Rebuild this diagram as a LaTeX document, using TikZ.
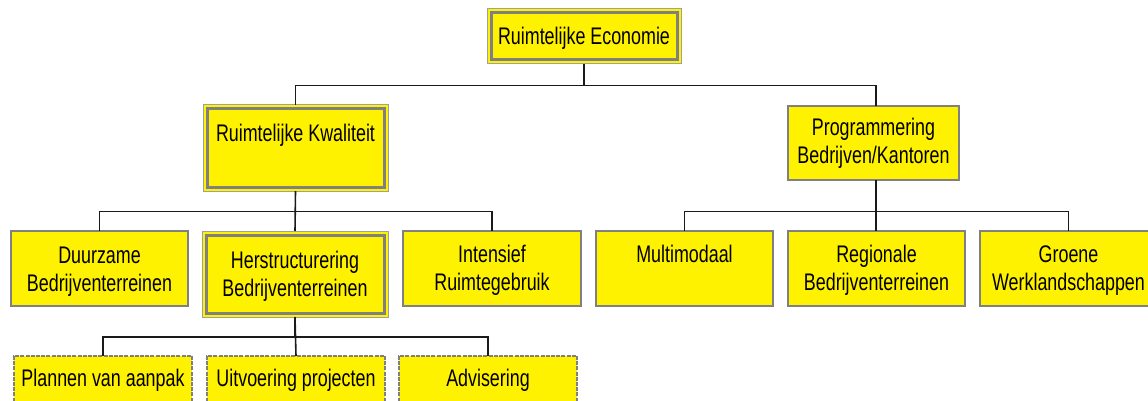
\documentclass[tikz,border=0pt]{standalone}
\usepackage{fontspec}
\setmainfont{Liberation Sans}[FakeStretch=0.745]
\definecolor{boxgray}{HTML}{808080}
\definecolor{rimgray}{HTML}{A0A0A0}
\definecolor{linecol}{HTML}{1A1A1A}
\begin{document}
\begin{tikzpicture}[x=1pt,y=-1pt,
  box/.style={draw=boxgray, line width=1.3pt, fill=yellow, inner sep=0pt, outer sep=0pt},
  dbox/.style={draw=rimgray, line width=1pt, fill=yellow, inner sep=0pt, outer sep=0pt},
  dashbox/.style={box, draw=boxgray, dash pattern=on 4pt off 1.2pt},
  inner/.style={draw=boxgray, line width=3pt},
  lbl/.style={anchor=base, align=center, inner sep=0pt, font=\fontsize{24}{28}\selectfont},
  conn/.style={draw=linecol, line width=1.6pt}]
\useasboundingbox (0,0) rectangle (1148,401);
\clip (0,0) rectangle (1148,401);
% level 1
\node[dbox, minimum width=194pt, minimum height=55pt] (top) at (584,36.5) {};
\draw[inner] ([shift={(4,4)}]top.north west) rectangle ([shift={(-4,-4)}]top.south east);
\node[lbl] (ttop) at (584,45) {Ruimtelijke Economie};
% level 2
\node[dbox, minimum width=185pt, minimum height=86pt] (rk) at (295.5,148) {};
\draw[inner] ([shift={(4,4)}]rk.north west) rectangle ([shift={(-4,-4)}]rk.south east);
\node[lbl] (trk) at (295.5,141.7) {Ruimtelijke Kwaliteit};
\node[box, minimum width=171pt, minimum height=74pt] (prog) at (873.5,143) {};
\node[lbl] (tprog) at (873.5,163.5) {Programmering\\Bedrijven/Kantoren};
% level 3
\node[box, minimum width=177pt, minimum height=75pt] (dz) at (99.5,268.5) {};
\node[lbl] (tdz) at (99.5,291) {Duurzame\\Bedrijventerreinen};
\node[dbox, minimum width=186pt, minimum height=86pt] (hs) at (295,274) {};
\draw[inner] ([shift={(4,4)}]hs.north west) rectangle ([shift={(-4,-4)}]hs.south east);
\node[lbl] (ths) at (295,296) {Herstructurering\\Bedrijventerreinen};
\node[box, minimum width=178pt, minimum height=75pt] (in) at (492,268.5) {};
\node[lbl] (tin) at (492,290.5) {Intensief\\Ruimtegebruik};
\node[box, minimum width=177pt, minimum height=75pt] (mm) at (684.5,268.5) {};
\node[lbl] (tmm) at (684.5,262.7) {Multimodaal};
\node[box, minimum width=177pt, minimum height=75pt] (rg) at (876.5,268.5) {};
\node[lbl] (trg) at (876.5,290.7) {Regionale\\Bedrijventerreinen};
\node[box, minimum width=177pt, minimum height=75pt] (gr) at (1068.5,268.5) {};
\node[lbl] (tgr) at (1068.5,290.7) {Groene\\Werklandschappen};
% level 4
\node[dashbox, minimum width=178pt, minimum height=60pt] (pl) at (103,386) {};
\node[lbl] (tpl) at (103,386) {Plannen van aanpak};
\node[dashbox, minimum width=178pt, minimum height=60pt] (uv) at (296,386) {};
\node[lbl] (tuv) at (296,386) {Uitvoering projecten};
\node[dashbox, minimum width=178pt, minimum height=60pt] (ad) at (488,386) {};
\node[lbl] (tad) at (488,386) {Advisering};
% buses
\coordinate (b1) at (0,85.5);
\coordinate (b2) at (0,211.5);
\coordinate (b3) at (0,336.7);
% connectors
\draw[conn] (top.south) |- (b1 -| rk.north) -- (rk.north);
\draw[conn] (top.south |- b1) -- ([xshift=2.5pt]b1 -| prog.north) -- ([xshift=2.5pt]prog.north);
\draw[conn] (rk.south) |- (b2 -| dz.north) -- (dz.north);
\draw[conn] (rk.south) -- (hs.north);
\draw[conn] (rk.south) |- (b2 -| in.north) -- (in.north);
\draw[conn] ([xshift=2.5pt]prog.south) |- (b2 -| mm.north) -- (mm.north);
\draw[conn] ([xshift=2.5pt]prog.south) -- ([xshift=2.5pt]prog.south |- rg.north);
\draw[conn] ([xshift=2.5pt]prog.south) |- (b2 -| gr.north) -- (gr.north);
\draw[conn] (hs.south) |- (b3 -| pl.north) -- (pl.north);
\draw[conn] (hs.south) -- (uv.north);
\draw[conn] (hs.south) |- (b3 -| ad.north) -- (ad.north);
\end{tikzpicture}
\end{document}
